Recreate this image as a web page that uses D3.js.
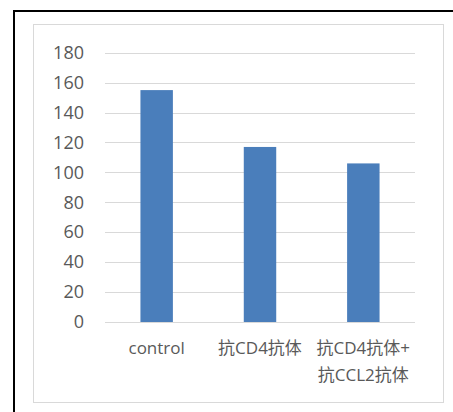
<!DOCTYPE html>
<html>
<head>
<meta charset="utf-8">
<script src="https://cdn.jsdelivr.net/npm/d3@7"></script>
<style>
  html, body { margin: 0; padding: 0; background: #fff; overflow: hidden; }
  svg { display: block; }
  text { font-family: "Open Sans", "Noto Sans CJK SC", sans-serif; fill: #595959; }
</style>
</head>
<body>
<script>
// Chart data
const categories = ["control", "抗CD4抗体", "抗CD4抗体+\n抗CCL2抗体"];
const values = [155, 117, 106];
const yTicks = [0, 20, 40, 60, 80, 100, 120, 140, 160, 180];

const W = 453, H = 412;
const svg = d3.select("body").append("svg").attr("width", W).attr("height", H);

// Outer black frame (left and top edges in view)
svg.append("path")
  .attr("d", `M14,${H} L14,11 L${W},11`)
  .attr("fill", "none").attr("stroke", "#000").attr("stroke-width", 2);

// Chart area frame
svg.append("rect")
  .attr("x", 33.5).attr("y", 24.5).attr("width", 410).attr("height", 378)
  .attr("fill", "#fff").attr("stroke", "#d9d9d9").attr("stroke-width", 1);

const plot = { left: 105, right: 415, top: 52.7, bottom: 322 };

const x = d3.scaleBand()
  .domain(categories)
  .range([plot.left, plot.right])
  .paddingInner(0.686)
  .paddingOuter(0.343);

const y = d3.scaleLinear()
  .domain([0, 180])
  .range([plot.bottom, plot.top]);

// Horizontal gridlines
svg.append("g")
  .selectAll("line")
  .data(yTicks)
  .join("line")
  .attr("x1", plot.left).attr("x2", plot.right)
  .attr("y1", d => Math.round(y(d)) + 0.5).attr("y2", d => Math.round(y(d)) + 0.5)
  .attr("stroke", "#d9d9d9").attr("stroke-width", 1);

// Y axis labels
const yAxis = d3.axisLeft(y).tickValues(yTicks).tickSize(0).tickPadding(0);
const gy = svg.append("g")
  .attr("transform", `translate(${plot.left - 21},0)`)
  .call(yAxis);
gy.select(".domain").remove();
gy.selectAll("text")
  .attr("font-size", 18)
  .attr("font-family", "\"Open Sans\", sans-serif")
  .style("fill", "#595959");

// Bars
svg.append("g")
  .selectAll("rect")
  .data(values)
  .join("rect")
  .attr("x", (d, i) => x(categories[i]))
  .attr("width", x.bandwidth())
  .attr("y", d => y(d))
  .attr("height", d => y(0) - y(d))
  .attr("fill", "#4a7ebb");

// Category labels (may wrap onto two lines)
const labels = svg.append("g")
  .selectAll("text")
  .data(categories)
  .join("text")
  .attr("text-anchor", "middle")
  .attr("font-size", 17)
  .attr("x", d => x(d) + x.bandwidth() / 2)
  .attr("y", 354);
labels.selectAll("tspan")
  .data(d => d.split("\n").map(s => ({ s, parent: d })))
  .join("tspan")
  .attr("x", d => x(d.parent) + x.bandwidth() / 2)
  .attr("dy", (d, i) => i === 0 ? 0 : 27)
  .text(d => d.s);
</script>
</body>
</html>
